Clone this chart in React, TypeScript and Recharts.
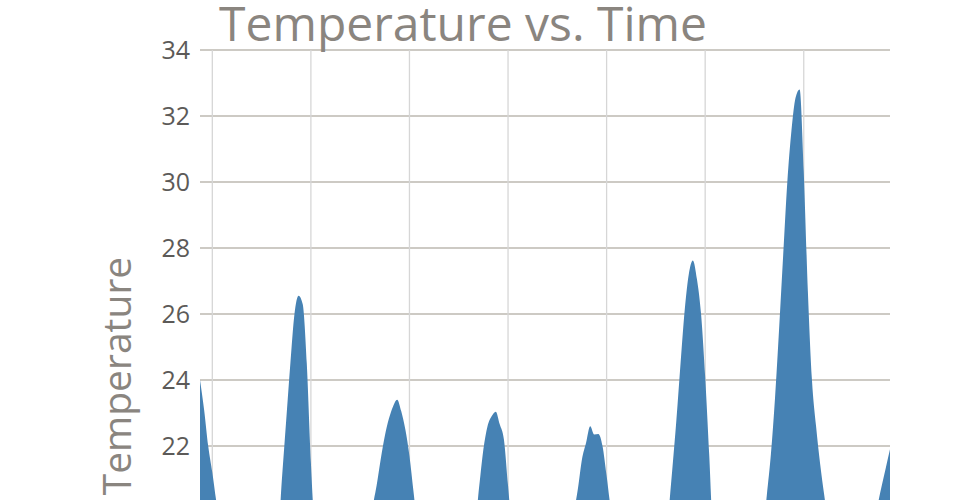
import { AreaChart, Area, XAxis, YAxis, CartesianGrid } from 'recharts';

// hourly temperature readings, 7 days (hour 0 .. 168)
const temps = [
  24.0, 23.1, 22.0, 21.2, 20.3, 19.6, 19.0, 18.5, 18.1, 17.8, 17.5, 17.3,
  17.1, 17.0, 17.2, 17.6, 18.3, 19.0, 19.6, 19.5, 21.1, 22.8, 24.5, 26.0,
  26.55, 26.3, 24.5, 21.5, 19.3, 18.6, 18.1, 17.7, 17.4, 17.1, 16.9, 16.7,
  16.6, 16.5, 16.7, 17.2, 18.0, 19.0, 20.1, 20.8, 21.6, 22.3, 22.83, 23.2,
  23.4, 23.05, 22.5, 21.7, 20.6, 19.5, 18.8, 18.2, 17.8, 17.5, 17.2, 17.0,
  16.9, 16.8, 16.9, 17.3, 18.0, 18.8, 19.5, 19.7, 20.8, 21.9, 22.6, 22.9,
  23.04, 22.65, 22.2, 20.8, 19.4, 18.7, 18.2, 17.8, 17.5, 17.3, 17.1, 17.0,
  16.9, 16.9, 17.1, 17.6, 18.3, 19.0, 19.6, 20.0, 20.7, 21.6, 22.1, 22.6,
  22.35, 22.36, 22.0, 21.1, 20.1, 19.3, 18.7, 18.2, 17.8, 17.5, 17.2, 17.0,
  16.9, 16.8, 16.9, 17.3, 18.0, 18.9, 19.9, 21.3, 22.8, 24.5, 26.1, 27.2,
  27.62, 27.05, 26.0, 24.1, 21.7, 19.0, 18.2, 17.7, 17.3, 17.0, 16.8, 16.6,
  16.5, 16.4, 16.5, 17.0, 17.9, 19.2, 20.5, 21.75, 23.45, 25.55, 27.8, 30.0,
  31.55, 32.55, 32.8, 30.3, 26.7, 24.0, 22.6, 21.45, 20.5, 19.6, 19.0, 18.6,
  18.3, 18.0, 17.8, 17.7, 17.6, 17.7, 18.0, 18.6, 19.4, 20.2, 20.8, 21.35,
  21.9,
];

const yTicks = [22, 24, 26, 28, 30, 32, 34];
// day boundaries (x tick labels sit below the visible frame)
const dayTicks = [3, 27, 51, 75, 99, 123, 147];

const data = temps.map((temp, hour) => ({ hour, temp }));

const font = '"Open Sans", sans-serif';

export default function App() {
  return (
    <div style={{ position: 'absolute', top: 0, left: 0, width: 960, height: 500, overflow: 'hidden', background: '#fff', fontFamily: font }}>
      <AreaChart width={960} height={760} data={data} margin={{ top: 50, right: 70, left: 0, bottom: 20 }}>
        <CartesianGrid vertical={false} syncWithTicks stroke="#bcb9b1" strokeWidth={1.3} />
        <CartesianGrid horizontal={false} syncWithTicks stroke="#d6d6d6" strokeWidth={1.3} />
        <XAxis
          dataKey="hour"
          type="number"
          domain={[0, 168]}
          ticks={dayTicks}
          axisLine={false}
          tickLine={false}
          tick={() => <g />}
          height={30}
        />
        <YAxis
          type="number"
          domain={[14, 34]}
          ticks={yTicks}
          width={200}
          axisLine={false}
          tickLine={false}
          tickSize={0}
          tickMargin={10}
          tick={{ fontSize: 25, fill: '#5c5a58', fontFamily: font }}
          label={() => (
            <text
              x={131}
              y={376}
              transform="rotate(-90 131 376)"
              textAnchor="middle"
              fontSize={39}
              fill="#8a857f"
              fontFamily={font}
            >
              Temperature
            </text>
          )}
        />
        <Area
          type="monotone"
          dataKey="temp"
          fill="#4682b4"
          fillOpacity={1}
          stroke="none"
          isAnimationActive={false}
        />
      </AreaChart>
      <svg width={960} height={60} style={{ position: 'absolute', top: 0, left: 0 }}>
        <text x={463} y={41} textAnchor="middle" fontSize={48} fill="#8a857f" fontFamily={font}>
          Temperature vs. Time
        </text>
      </svg>
    </div>
  );
}
